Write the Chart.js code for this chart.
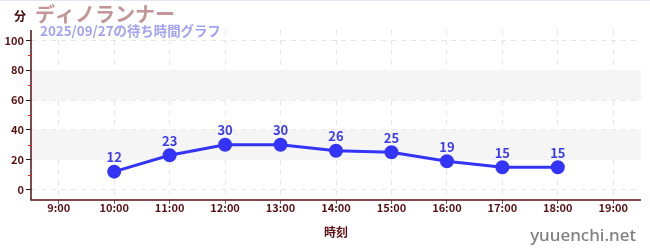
<!DOCTYPE html>
<html><head><meta charset="utf-8">
<script src="https://cdn.jsdelivr.net/npm/chart.js@4/dist/chart.umd.min.js"></script>
<style>
html,body{margin:0;padding:0;background:#fff;}
#wrap{position:relative;width:650px;height:250px;}
#topline{position:absolute;left:0;top:0;width:650px;height:1px;background:#e4e4f4;}
canvas{position:absolute;left:0;top:0;}
</style></head>
<body><div id="wrap"><div id="topline"></div><canvas id="c" width="650" height="250"></canvas></div>
<script>
const categories = ["9:00","10:00","11:00","12:00","13:00","14:00","15:00","16:00","17:00","18:00","19:00"];
const waitTimes = [null,12,23,30,30,26,25,19,15,15,null];
const yTicks = [0,20,40,60,80,100];
const minorTicks = [10,30,50,70,90];
const bands = [[20,40],[60,80]];
const unitLabel = "分";
const titleText = "ディノランナー";
const subtitleText = "2025/09/27の待ち時間グラフ";
const xTitle = "時刻";
const watermark = "yuuenchi.net";

const JP = '"Noto Sans CJK JP", "Noto Sans", sans-serif';
const AX = '#5a0f12';

const deco = {
  id:'deco',
  beforeDatasetsDraw(chart){
    const {ctx, chartArea:a, scales:{y}} = chart;
    ctx.save();
    ctx.fillStyle = '#f5f5f5';
    bands.forEach(([lo,hi])=>{
      const t = y.getPixelForValue(hi), b = y.getPixelForValue(lo);
      ctx.fillRect(a.left+1, t, a.right-a.left-1, b-t);
    });
    ctx.restore();
  },
  afterDraw(chart){
    const {ctx, chartArea:a, scales:{x,y}} = chart;
    ctx.save();
    // axis lines
    ctx.strokeStyle = AX; ctx.lineWidth = 1.5; ctx.setLineDash([]);
    ctx.beginPath(); ctx.moveTo(a.left, a.top); ctx.lineTo(a.left, a.bottom); ctx.lineTo(a.right, a.bottom); ctx.stroke();
    // minor ticks
    ctx.strokeStyle = '#e02020'; ctx.lineWidth = 1;
    minorTicks.forEach(v=>{
      const py = Math.round(y.getPixelForValue(v))+0.5;
      ctx.beginPath(); ctx.moveTo(a.left-3, py); ctx.lineTo(a.left, py); ctx.stroke();
    });
    // value labels
    ctx.fillStyle = '#3b3bf0';
    ctx.font = 'bold 13px ' + JP;
    ctx.textAlign = 'center'; ctx.textBaseline = 'bottom';
    const meta = chart.getDatasetMeta(0);
    meta.data.forEach((p,i)=>{
      const v = waitTimes[i];
      if (v === null || v === undefined) return;
      ctx.fillText(String(v), p.x, p.y - 8);
    });
    // titles
    ctx.textBaseline = 'alphabetic'; ctx.textAlign = 'left';
    ctx.fillStyle = '#4a0a0c'; ctx.font = 'bold 12px ' + JP;
    ctx.fillText(unitLabel, 14, 21);
    ctx.fillStyle = '#c49596'; ctx.font = 'bold 20px ' + JP;
    ctx.fillText(titleText, 35, 22);
    ctx.fillStyle = '#a3a3f3'; ctx.font = 'bold 13.4px ' + JP;
    ctx.fillText(subtitleText, 40, 36);
    // x title
    ctx.textAlign = 'center'; ctx.fillStyle = AX; ctx.font = 'bold 12px ' + JP;
    ctx.fillText(xTitle, (a.left+a.right)/2, 237);
    // watermark
    ctx.textAlign = 'right'; ctx.fillStyle = '#808080'; ctx.font = '500 17px "Noto Sans", sans-serif';
    ctx.fillText(watermark, 636, 241);
    ctx.restore();
  }
};

new Chart(document.getElementById('c'), {
  type:'line',
  data:{ labels:categories, datasets:[{
    data:waitTimes, borderColor:'#3434f8', backgroundColor:'#3434f8',
    borderWidth:3, pointRadius:5.5, pointHoverRadius:5.5, tension:0, spanGaps:false
  }]},
  options:{
    responsive:false, animation:false, devicePixelRatio:1,
    layout:{padding:{left:0,right:9,top:30,bottom:38}},
    plugins:{legend:{display:false}, tooltip:{enabled:false}},
    scales:{
      x:{ type:'category', offset:true,
        grid:{ color:'#e6e6e6', offset:false, drawTicks:true, tickLength:4, tickColor:'#666' },
        border:{ display:false, dash:[5,5] },
        ticks:{ color:AX, font:{family:JP, size:11, weight:'bold'}, padding:-3, maxRotation:0, autoSkip:false },
        afterFit(s){ s.height = 12; }
      },
      y:{ min:-7, max:107,
        afterBuildTicks(s){ s.ticks = yTicks.map(v=>({value:v})); },
        grid:{ color:'#e6e6e6', drawTicks:true, tickLength:5, tickColor:'#222' },
        border:{ display:false, dash:[5,5] },
        ticks:{ color:AX, font:{family:JP, size:11, weight:'bold'}, padding:2 },
        afterFit(s){ s.width = 31; }
      }
    }
  },
  plugins:[deco]
});
</script></body></html>
